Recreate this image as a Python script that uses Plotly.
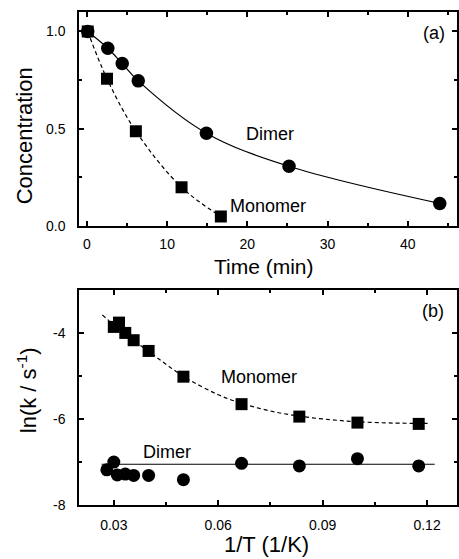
import plotly.graph_objects as go

# ---------- Panel (a): concentration vs time ----------
time_dimer = [0.1, 2.6, 4.4, 6.4, 14.9, 25.2, 44.0]
conc_dimer = [1.0, 0.914, 0.835, 0.746, 0.477, 0.307, 0.116]
time_mono = [0.1, 2.5, 6.1, 11.8, 16.7]
conc_mono = [1.0, 0.757, 0.487, 0.199, 0.049]

# ---------- Panel (b): ln k vs 1/T ----------
invT_mono = [0.0300, 0.0315, 0.0333, 0.0357, 0.0400, 0.0500, 0.0667, 0.0833, 0.1000, 0.1176]
lnk_mono = [-3.85, -3.75, -3.99, -4.16, -4.41, -5.01, -5.65, -5.94, -6.08, -6.11]
invT_dimer = [0.0280, 0.0300, 0.0310, 0.0333, 0.0357, 0.0400, 0.0500, 0.0667, 0.0833, 0.1000, 0.1176]
lnk_dimer = [-7.18, -7.00, -7.30, -7.28, -7.31, -7.31, -7.41, -7.03, -7.09, -6.92, -7.09]

# fitted curves
fit_mono_x = [0.0267, 0.030, 0.035, 0.040, 0.050, 0.060, 0.0667, 0.075, 0.0833, 0.092, 0.100, 0.110, 0.121]
fit_mono_y = [-3.57, -3.80, -4.12, -4.42, -5.00, -5.43, -5.63, -5.81, -5.93, -6.01, -6.06, -6.09, -6.10]
fit_dimer_x = [0.0265, 0.1222]
fit_dimer_y = [-7.05, -7.05]

# tick labels
a_xticks = [0, 10, 20, 30, 40]
a_yticks = [0.0, 0.5, 1.0]
a_yticktext = ["0.0", "0.5", "1.0"]
b_xticks = [0.03, 0.06, 0.09, 0.12]
b_xticktext = ["0.03", "0.06", "0.09", "0.12"]
b_yticks = [-8, -6, -4]
b_yticktext = ["-8", "-6", "-4"]

FONT = "Arial, 'Liberation Sans', Helvetica, sans-serif"
BLK = "black"

fig = go.Figure()

# panel (a)
fig.add_trace(go.Scatter(x=time_dimer, y=conc_dimer, mode="lines", line=dict(color=BLK, width=1.2, shape="spline", smoothing=1.0),
                         xaxis="x", yaxis="y", showlegend=False, hoverinfo="skip"))
fig.add_trace(go.Scatter(x=time_mono, y=conc_mono, mode="lines", line=dict(color=BLK, width=1.2, dash="4px,3px", shape="spline", smoothing=1.0),
                         xaxis="x", yaxis="y", showlegend=False, hoverinfo="skip"))
fig.add_trace(go.Scatter(x=time_dimer, y=conc_dimer, mode="markers", marker=dict(symbol="circle", size=13.5, color=BLK),
                         xaxis="x", yaxis="y", showlegend=False, name="Dimer"))
fig.add_trace(go.Scatter(x=time_mono, y=conc_mono, mode="markers", marker=dict(symbol="square", size=12, color=BLK),
                         xaxis="x", yaxis="y", showlegend=False, name="Monomer"))

# panel (b)
fig.add_trace(go.Scatter(x=fit_mono_x, y=fit_mono_y, mode="lines", line=dict(color=BLK, width=1.2, dash="4px,3px", shape="spline", smoothing=1.0),
                         xaxis="x2", yaxis="y2", showlegend=False, hoverinfo="skip"))
fig.add_trace(go.Scatter(x=fit_dimer_x, y=fit_dimer_y, mode="lines", line=dict(color=BLK, width=1.2),
                         xaxis="x2", yaxis="y2", showlegend=False, hoverinfo="skip"))
fig.add_trace(go.Scatter(x=invT_dimer, y=lnk_dimer, mode="markers", marker=dict(symbol="circle", size=13, color=BLK),
                         xaxis="x2", yaxis="y2", showlegend=False, name="Dimer"))
fig.add_trace(go.Scatter(x=invT_mono, y=lnk_mono, mode="markers", marker=dict(symbol="square", size=12, color=BLK),
                         xaxis="x2", yaxis="y2", showlegend=False, name="Monomer"))

axis_common = dict(showgrid=False, zeroline=False, showline=True, linecolor=BLK, linewidth=1.5,
                   mirror="ticks", ticks="inside", ticklen=5, tickwidth=1.5, tickcolor=BLK,
                   tickfont=dict(family=FONT, size=14, color=BLK))

fig.update_layout(
    width=459, height=559,
    margin=dict(l=79, r=0, t=12, b=54),
    paper_bgcolor="white", plot_bgcolor="white",
    font=dict(family=FONT, color=BLK),
    xaxis=dict(axis_common, domain=[0, 1], range=[-0.99, 46.15], anchor="y",
               tickvals=a_xticks, ticklabelstandoff=4,
               minor=dict(dtick=5, tick0=0, ticks="inside", ticklen=3, tickwidth=1.5, tickcolor=BLK)),
    yaxis=dict(axis_common, domain=[0.5659, 1], range=[0, 1.1], anchor="x",
               tickvals=a_yticks, ticktext=a_yticktext, ticklabelstandoff=9,
               minor=dict(dtick=0.25, tick0=0, ticks="inside", ticklen=3, tickwidth=1.5, tickcolor=BLK)),
    xaxis2=dict(axis_common, domain=[0, 1], range=[0.0200, 0.1286], anchor="y2",
                tickvals=b_xticks, ticktext=b_xticktext, ticklabelstandoff=6,
                minor=dict(dtick=0.015, tick0=0, ticks="inside", ticklen=3, tickwidth=1.5, tickcolor=BLK)),
    yaxis2=dict(axis_common, domain=[0, 0.4361], range=[-8, -2.99], anchor="x2",
                tickvals=b_yticks, ticktext=b_yticktext, ticklabelstandoff=9,
                minor=dict(dtick=1, tick0=0, ticks="inside", ticklen=3, tickwidth=1.5, tickcolor=BLK)),
)

C = dict(showarrow=False, xanchor="center", yanchor="middle")
ann = []
# in-plot labels
ann.append(dict(C, x=43.3, y=0.99, xref="x", yref="y", text="(a)", font=dict(size=18)))
ann.append(dict(C, x=22.85, y=0.473, xref="x", yref="y", text="Dimer", font=dict(size=18)))
ann.append(dict(C, x=22.6, y=0.102, xref="x", yref="y", text="Monomer", font=dict(size=18)))
ann.append(dict(C, x=0.1217, y=-3.475, xref="x2", yref="y2", text="(b)", font=dict(size=18)))
ann.append(dict(C, x=0.0716, y=-5.01, xref="x2", yref="y2", text="Monomer", font=dict(size=18)))
ann.append(dict(C, x=0.0453, y=-6.76, xref="x2", yref="y2", text="Dimer", font=dict(size=18)))
# axis titles
ann.append(dict(C, x=-0.142, y=0.7485, xref="paper", yref="paper", text="Concentration", textangle=-90,
                font=dict(size=22)))
ann.append(dict(C, x=0.489, y=0.484, xref="paper", yref="paper", text="Time (min)",
                font=dict(size=21)))
ann.append(dict(C, x=-0.137, y=0.2333, xref="paper", yref="paper", text="ln(k / s<sup>-1</sup>)", textangle=-90,
                font=dict(size=22)))
ann.append(dict(C, x=0.495, y=-0.0795, xref="paper", yref="paper", text="1/T (1/K)",
                font=dict(size=22)))
fig.update_layout(annotations=ann)

fig.write_html("out.html", config={"displayModeBar": False},
               post_script="document.body.style.margin='0';document.body.style.overflow='hidden';")
